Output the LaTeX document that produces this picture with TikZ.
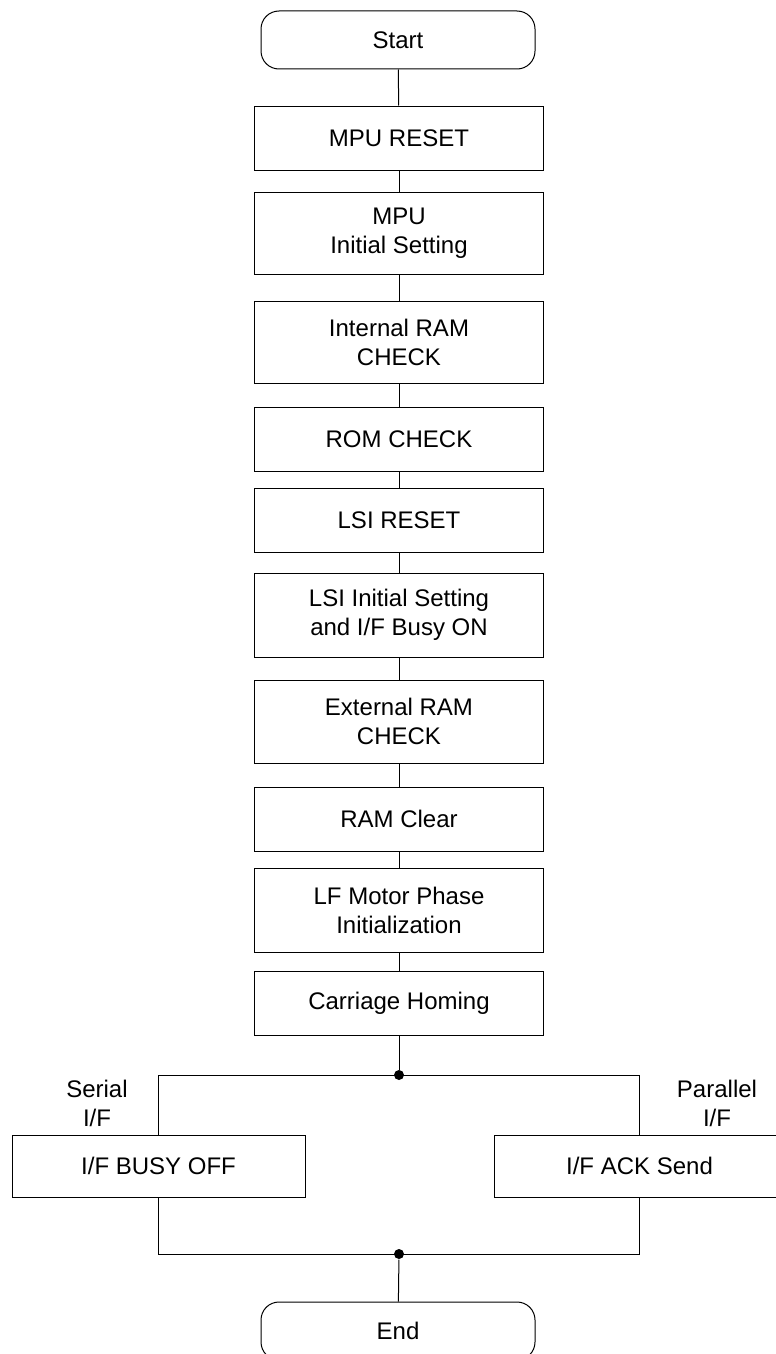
\documentclass[tikz,border=0pt]{standalone}
\usepackage{fontspec}
\setmainfont{Liberation Sans}
\usepackage{tikz}
\tikzset{
	boxstyle/.style={rectangle,draw=black,line width=1pt,fill=white,minimum width=289,align=center},
	termstyle/.style={rectangle,rounded corners=18,draw=black,line width=1pt,fill=white,minimum width=274,minimum height=58},
	dotstyle/.style={circle,fill=black,inner sep=0,minimum size=10},
	labelstyle/.style={align=center}
}

\begin{document}
\begin{tikzpicture}[x=1pt,y=-1pt,line width=1pt]
	\fontsize{24}{29}\selectfont
	\useasboundingbox (0,0) rectangle (776,1354);
	\node[termstyle] (start) at (398,40) {Start};
	\node[boxstyle,minimum height=64] (mpureset) at (399,138) {MPU RESET};
	\node[boxstyle,minimum height=82] (mpuinit) at (399,233) {MPU\\Initial Setting};
	\node[boxstyle,minimum height=82] (iram) at (399,342) {Internal RAM\\CHECK};
	\node[boxstyle,minimum height=64] (rom) at (399,439) {ROM CHECK};
	\node[boxstyle,minimum height=64] (lsireset) at (399,520) {LSI RESET};
	\node[boxstyle,minimum height=84] (lsiinit) at (399,615) {LSI Initial Setting\\and I/F Busy ON};
	\node[boxstyle,minimum height=83] (eram) at (399,721.5) {External RAM\\CHECK};
	\node[boxstyle,minimum height=64] (ramclear) at (399,819) {RAM Clear};
	\node[boxstyle,minimum height=84] (lfmotor) at (399,910) {LF Motor Phase\\Initialization};
	\node[boxstyle,minimum height=64] (homing) at (399,1003) {Carriage Homing};
	\node[dotstyle] (split) at (399,1075) {};
	\node[boxstyle,minimum width=293,minimum height=62] (busyoff) at (158.5,1166) {I/F BUSY OFF};
	\node[boxstyle,minimum width=291,minimum height=62] (ack) at (639.5,1166) {I/F ACK Send};
	\node[labelstyle] (serial) at (97,1103) {Serial\\I/F};
	\node[labelstyle] (parallel) at (717,1103) {Parallel\\I/F};
	\node[dotstyle] (merge) at (399,1254) {};
	\node[termstyle] (end) at (398,1331) {End};
	\draw (start)--(mpureset);
	\draw (mpureset)--(mpuinit);
	\draw (mpuinit)--(iram);
	\draw (iram)--(rom);
	\draw (rom)--(lsireset);
	\draw (lsireset)--(lsiinit);
	\draw (lsiinit)--(eram);
	\draw (eram)--(ramclear);
	\draw (ramclear)--(lfmotor);
	\draw (lfmotor)--(homing);
	\draw (homing)--(split);
	\draw (split.center) -| (busyoff.north);
	\draw (split.center) -| (ack.north);
	\draw (busyoff.south) |- (merge.center);
	\draw (ack.south) |- (merge.center);
	\draw (merge)--(end);
\end{tikzpicture}
\end{document}
